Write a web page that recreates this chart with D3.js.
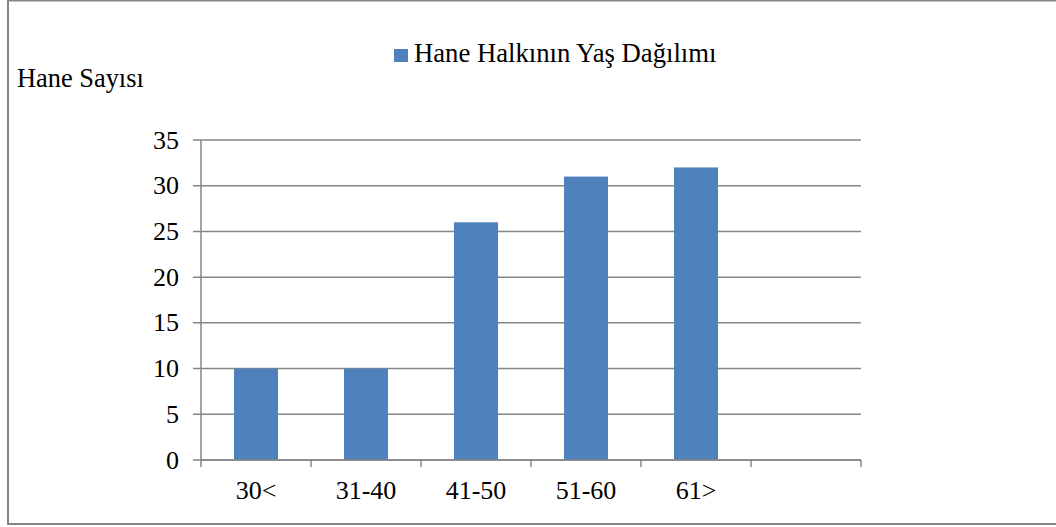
<!DOCTYPE html>
<html><head><meta charset="utf-8">
<script src="https://cdn.jsdelivr.net/npm/d3@7"></script>
<style>body{margin:0;background:#fff}svg{display:block}
svg text{font-family:"Liberation Serif","Times New Roman",Tinos,"DejaVu Serif",serif;font-size:26px;fill:#000}</style>
</head><body>
<script>
const categories = ["30<", "31-40", "41-50", "51-60", "61>", ""];
const values = [10, 10, 26, 31, 32, null];
const yTicks = [0, 5, 10, 15, 20, 25, 30, 35];
const seriesName = "Hane Halkının Yaş Dağılımı";
const yTitle = "Hane Sayısı";

const W = 1056, H = 527;
const svg = d3.select("body").append("svg").attr("width", W).attr("height", H);

svg.append("rect").attr("x", 8).attr("y", 0.5).attr("width", W).attr("height", 523.5)
  .attr("fill", "#fff").attr("stroke", "#868686").attr("stroke-width", 2);

const x = d3.scaleBand().domain(categories.map((c, i) => i)).range([201, 861])
  .paddingInner(0.6).paddingOuter(0.3);
const y = d3.scaleLinear().domain([0, 35]).range([460, 140]);

// grid
svg.append("g").selectAll("line").data(yTicks).join("line")
  .attr("x1", 193).attr("x2", 861)
  .attr("y1", d => y(d)).attr("y2", d => y(d))
  .attr("stroke", "#868686").attr("stroke-width", 1.5);

// y axis line
svg.append("line").attr("x1", 201).attr("x2", 201).attr("y1", 140).attr("y2", 460)
  .attr("stroke", "#868686").attr("stroke-width", 1.5);

// y labels
svg.append("g").selectAll("text").data(yTicks).join("text")
  .attr("x", 179).attr("y", d => y(d) + 8.5)
  .attr("text-anchor", "end").text(d => d);

// bars
svg.append("g").selectAll("rect").data(values.map((v, i) => ({v, i})).filter(d => d.v != null)).join("rect")
  .attr("x", d => x(d.i)).attr("width", x.bandwidth())
  .attr("y", d => y(d.v)).attr("height", d => y(0) - y(d.v))
  .attr("fill", "#4F81BD");

// x axis
svg.append("line").attr("x1", 201).attr("x2", 861).attr("y1", 460).attr("y2", 460)
  .attr("stroke", "#868686").attr("stroke-width", 1.5);
const step = x.step();
const bounds = d3.range(categories.length + 1).map(i => 201 + i * step);
svg.append("g").selectAll("line").data(bounds).join("line")
  .attr("x1", d => d).attr("x2", d => d).attr("y1", 460).attr("y2", 467)
  .attr("stroke", "#868686").attr("stroke-width", 1.5);
svg.append("g").selectAll("text").data(categories).join("text")
  .attr("x", (d, i) => x(i) + x.bandwidth() / 2).attr("y", 499)
  .attr("text-anchor", "middle").text(d => d);

// y title
svg.append("text").attr("x", 17).attr("y", 87).style("font-size", "26.4px").text(yTitle);

// legend
svg.append("rect").attr("x", 394).attr("y", 49).attr("width", 14).attr("height", 13).attr("fill", "#4F81BD");
svg.append("text").attr("x", 414).attr("y", 62).style("font-size", "26.7px").text(seriesName);
</script>
</body></html>
